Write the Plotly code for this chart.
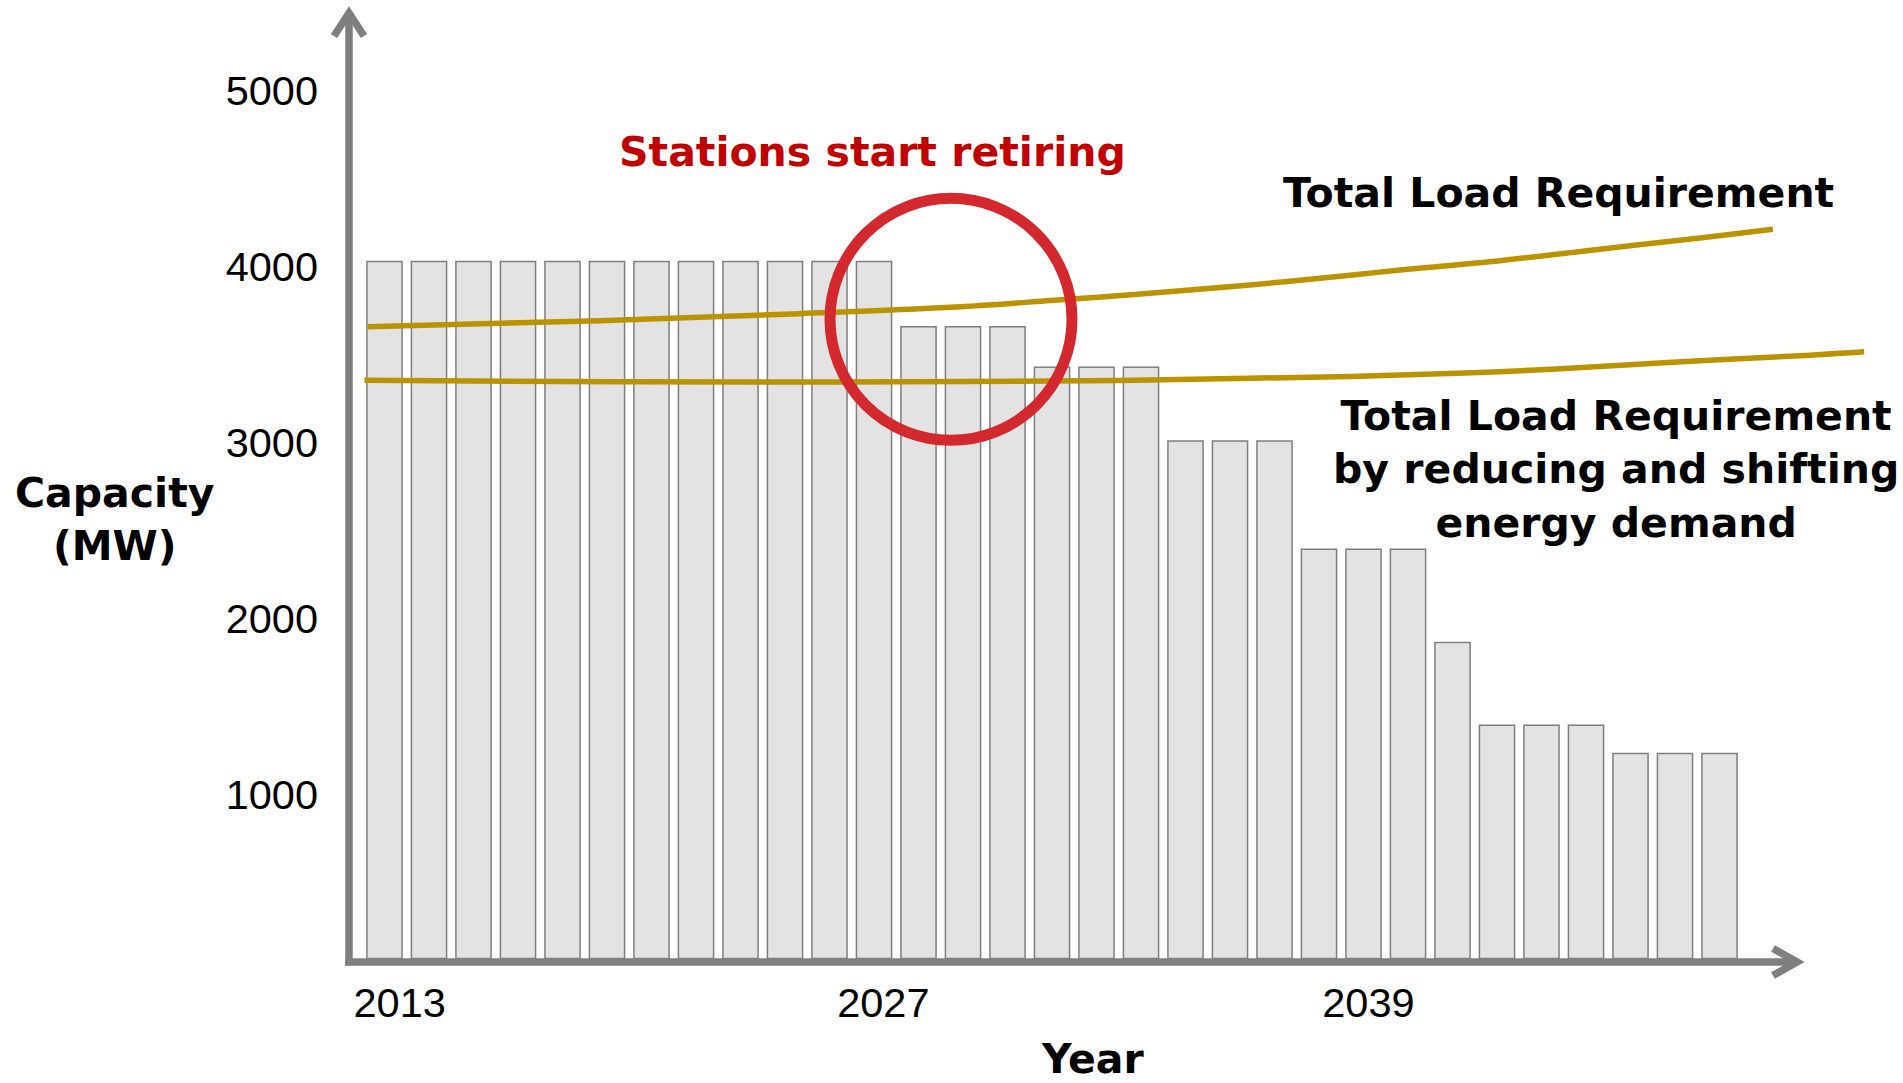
import plotly.graph_objects as go

# ---------------- data ----------------
YEARS = [2013, 2014, 2015, 2016, 2017, 2018, 2019, 2020, 2021, 2022, 2023, 2024,
         2025, 2026, 2027, 2028, 2029, 2030, 2031, 2032, 2033, 2034, 2035, 2036,
         2037, 2038, 2039, 2040, 2041, 2042, 2043]
CAPACITY_MW = [3960, 3960, 3960, 3960, 3960, 3960, 3960, 3960, 3960, 3960, 3960, 3960,
               3590, 3590, 3590, 3360, 3360, 3360, 2940, 2940, 2940, 2325, 2325, 2325,
               1795, 1325, 1325, 1325, 1165, 1165, 1165]

LOAD_X = [2012.62, 2017.84, 2022.34, 2025.71, 2027.96, 2030.20, 2032.45, 2034.70,
          2035.82, 2038.07, 2040.31, 2042.56, 2044.20]
LOAD_Y = [3590, 3624, 3664, 3700, 3738, 3780, 3827, 3882, 3912, 3965, 4030, 4094, 4143]

REDUCED_X = [2012.55, 2018.22, 2023.08, 2027.96, 2030.20, 2032.45, 2034.70, 2035.82,
             2038.07, 2040.31, 2042.56, 2044.81, 2046.25]
REDUCED_Y = [3285, 3277, 3276, 3281, 3287, 3297, 3307, 3315, 3334, 3363, 3397, 3425, 3448]

X_TICK_POS = [2013.34, 2024.21, 2035.11]
X_TICK_TEXT = ["2013", "2027", "2039"]
Y_TICK_POS = [1000, 2000, 3000, 4000, 5000]
Y_TICK_TEXT = ["1000", "2000", "3000", "4000", "5000"]

# ---------------- layout geometry ----------------
W, H = 1903, 1083
PL, PR, PT, PB = 349, 1870, 4, 966          # plot box in pixels


def px(x):
    return (x - PL) / (PR - PL)


def py(y):
    return (PB - y) / (PB - PT)


GRAY = "#7F7F7F"
GOLD = "#BB9300"
BOLD = dict(family="DejaVu Sans", size=41, color="black", weight="bold")

fig = go.Figure()
fig.add_trace(go.Bar(
    x=YEARS, y=CAPACITY_MW, width=0.79,
    marker=dict(color="#E3E3E3", line=dict(color=GRAY, width=1.5)),
    showlegend=False, hoverinfo="skip"))
fig.add_trace(go.Scatter(
    x=LOAD_X, y=LOAD_Y, mode="lines", line=dict(color=GOLD, width=5.5, shape="spline"),
    showlegend=False, hoverinfo="skip"))
fig.add_trace(go.Scatter(
    x=REDUCED_X, y=REDUCED_Y, mode="lines", line=dict(color=GOLD, width=5.5, shape="spline"),
    showlegend=False, hoverinfo="skip"))

shapes = [
    # y axis line + arrow head
    dict(type="line", xref="paper", yref="paper", x0=px(349), x1=px(349),
         y0=py(965.5), y1=py(14), line=dict(color=GRAY, width=7.5)),
    dict(type="path", xref="paper", yref="paper",
         path=f"M {px(334)},{py(36)} L {px(349)},{py(13)} L {px(364)},{py(36)}",
         line=dict(color=GRAY, width=7.5)),
    # x axis line + arrow head
    dict(type="line", xref="paper", yref="paper", x0=px(345.3), x1=px(1796),
         y0=py(962), y1=py(962), line=dict(color=GRAY, width=7.5)),
    dict(type="path", xref="paper", yref="paper",
         path=f"M {px(1773)},{py(948.5)} L {px(1797)},{py(962)} L {px(1773)},{py(975.5)}",
         line=dict(color=GRAY, width=7.5)),
    # red highlight circle
    dict(type="circle", xref="paper", yref="paper",
         x0=px(951 - 121), x1=px(951 + 121), y0=py(319.3 + 121), y1=py(319.3 - 121),
         line=dict(color="#D2282E", width=11)),
]

annotations = [
    dict(text="Stations start retiring", x=px(872), y=py(152),
         font=dict(BOLD, color="#C00000")),
    dict(text="Total Load Requirement", x=px(1558), y=py(193), font=BOLD),
    dict(text="Total Load Requirement<br>by reducing and shifting<br>energy demand",
         x=px(1616), y=py(469), font=BOLD),
    dict(text="Capacity<br>(MW)", x=px(114), y=py(520), font=BOLD),
    dict(text="Year", x=px(1092), y=py(1059), font=BOLD),
]
for a in annotations:
    a.update(xref="paper", yref="paper", xanchor="center", yanchor="middle",
             showarrow=False, align="center")

fig.update_layout(
    width=W, height=H,
    margin=dict(l=PL, r=W - PR, t=PT, b=H - PB, pad=0),
    paper_bgcolor="white", plot_bgcolor="white",
    shapes=shapes, annotations=annotations,
    bargap=0.2,
    xaxis=dict(range=[2012.2022, 2046.3820], showgrid=False, zeroline=False,
               showline=False, ticks="", tickmode="array",
               tickvals=X_TICK_POS, ticktext=X_TICK_TEXT,
               tickfont=dict(family="Liberation Sans", size=41.5, color="black"),
               ticklabelstandoff=8),
    yaxis=dict(range=[-42.61, 5423.30], showgrid=False, zeroline=False,
               showline=False, ticks="", tickmode="array",
               tickvals=Y_TICK_POS, ticktext=Y_TICK_TEXT,
               tickfont=dict(family="Liberation Sans", size=41.5, color="black"),
               ticklabelstandoff=30, ticklabelshift=12),
)

fig.write_html("out.html", config={"displayModeBar": False},
               post_script="document.body.style.margin='0';")
